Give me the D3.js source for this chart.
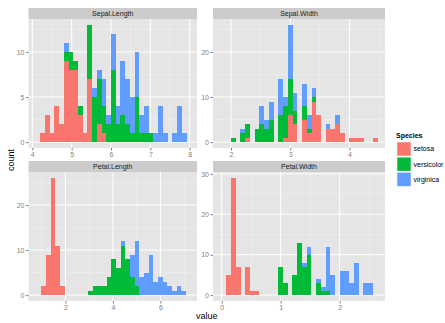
<!DOCTYPE html>
<html><head><meta charset="utf-8">
<script src="https://cdn.jsdelivr.net/npm/d3@7"></script>
<style>body{margin:0;background:#fff}svg{display:block}text{font-family:"Liberation Sans",Arial,sans-serif}</style>
</head><body>
<script>
// ---- data (stacked histogram counts per bin) ----
const species = ["setosa", "versicolor", "virginica"];
const facetNames = ["Sepal.Length", "Sepal.Width", "Petal.Length", "Petal.Width"];
const binStarts = [4.2, 2.0, 0.98333, 0.08];
const binWidths = [0.12, 0.08, 0.196667, 0.08];

const slSetosa     = [1,3,1,4,2,9,8,8,3,1,7,0,2,1,0,0,0,0,0,0,0,0,0,0,0,0,0,0,0,0,0];
const slVersicolor = [0,0,0,0,0,1,2,1,1,0,6,5,5,3,2,8,2,3,2,1,5,1,1,1,0,0,0,0,0,0,0];
const slVirginica  = [0,0,0,0,0,1,0,0,0,0,0,1,1,3,1,4,2,6,5,4,5,2,3,0,1,4,1,0,1,4,1];

const swSetosa     = [0,0,0,1,0,0,0,0,0,0,0,1,6,4,0,5,2,9,6,0,3,3,4,2,0,1,1,1,0,0,1];
const swVersicolor = [1,0,2,3,0,3,4,3,5,0,6,7,8,3,0,3,1,1,0,0,0,0,0,0,0,0,0,0,0,0,0];
const swVirginica  = [0,0,1,0,0,0,4,2,4,0,8,2,12,4,0,5,3,2,0,0,1,0,2,0,0,0,0,0,0,0,0];

const plSetosa     = [2,9,26,11,2,0,0,0,0,0,0,0,0,0,0,0,0,0,0,0,0,0,0,0,0,0,0,0,0,0,0];
const plVersicolor = [0,0,0,0,0,0,0,0,0,0,1,2,2,2,4,8,6,11,8,4,2,0,0,0,0,0,0,0,0,0,0];
const plVirginica  = [0,0,0,0,0,0,0,0,0,0,0,0,0,0,0,0,0,1,0,5,10,4,5,9,3,4,3,2,1,2,1];

const pwSetosa     = [5,29,7,0,7,1,1,0,0,0,0,0,0,0,0,0,0,0,0,0,0,0,0,0,0,0,0,0,0,0,0];
const pwVersicolor = [0,0,0,0,0,0,0,0,0,0,0,7,3,0,5,13,7,10,0,3,1,1,0,0,0,0,0,0,0,0,0];
const pwVirginica  = [0,0,0,0,0,0,0,0,0,0,0,0,0,0,0,0,1,2,0,1,1,11,5,0,6,6,3,8,0,3,3];

const xTicks = [[4,5,6,7,8],[2,3,4],[2,4,6],[0,1,2]];
const yTicks = [[0,5,10],[0,10,20],[0,10,20],[0,10,20,30]];
const xLimits = [[3.903, 8.186],[1.696, 4.601],[0.447, 7.539],[-0.147, 2.768]];

const counts = [
  [slSetosa, slVersicolor, slVirginica],
  [swSetosa, swVersicolor, swVirginica],
  [plSetosa, plVersicolor, plVirginica],
  [pwSetosa, pwVersicolor, pwVirginica]
];

// ---- layout ----
const W = 445, H = 323;
const cols = [[28.5, 197], [213, 385]];
const rows = [{strip: 8, top: 19, bottom: 148}, {strip: 161, top: 172, bottom: 301}];
const colors = d3.scaleOrdinal().domain(species).range(["#F8766D", "#00BA38", "#619CFF"]);

const svg = d3.select("body").append("svg").attr("width", W).attr("height", H);
svg.append("rect").attr("width", W).attr("height", H).attr("fill", "#fff");

facetNames.forEach((name, fi) => {
  const c = cols[fi % 2], r = rows[Math.floor(fi / 2)];
  const n = counts[fi][0].length;
  const table = d3.range(n).map(i => {
    const o = {x0: binStarts[fi] + i * binWidths[fi], x1: binStarts[fi] + (i + 1) * binWidths[fi]};
    species.forEach((s, si) => o[s] = counts[fi][si][i]);
    return o;
  });
  const stacked = d3.stack().keys(species)(table);
  const maxY = d3.max(table, d => species.reduce((a, s) => a + d[s], 0));
  const x = d3.scaleLinear().domain(xLimits[fi]).range(c);
  const y = d3.scaleLinear().domain([-0.05 * maxY, 1.05 * maxY]).range([r.bottom, r.top]);

  const g = svg.append("g");
  // strip
  g.append("rect").attr("x", c[0]).attr("y", r.strip).attr("width", c[1] - c[0]).attr("height", r.top - r.strip).attr("fill", "#CCCCCC");
  g.append("text").attr("x", (c[0] + c[1]) / 2).attr("y", (r.strip + r.top) / 2).attr("dy", "0.35em")
    .attr("text-anchor", "middle").attr("font-size", 7).attr("fill", "#1A1A1A").text(name);
  // panel
  g.append("rect").attr("x", c[0]).attr("y", r.top).attr("width", c[1] - c[0]).attr("height", r.bottom - r.top).attr("fill", "#E5E5E5");
  // minor grid
  const xt = xTicks[fi], yt = yTicks[fi];
  const xs = xt[1] - xt[0], ys = yt[1] - yt[0];
  const xMinor = d3.range(xt[0] - xs / 2, xt[xt.length - 1] + xs, xs).filter(v => v > xLimits[fi][0] && v < xLimits[fi][1]);
  const yMinor = d3.range(yt[0] - ys / 2, yt[yt.length - 1] + ys, ys).filter(v => v > y.domain()[0] && v < y.domain()[1]);
  g.selectAll(".mx").data(xMinor).join("line").attr("x1", d => x(d)).attr("x2", d => x(d)).attr("y1", r.top).attr("y2", r.bottom).attr("stroke", "#F2F2F2").attr("stroke-width", 0.5);
  g.selectAll(".my").data(yMinor).join("line").attr("x1", c[0]).attr("x2", c[1]).attr("y1", d => y(d)).attr("y2", d => y(d)).attr("stroke", "#F2F2F2").attr("stroke-width", 0.5);
  g.selectAll(".gx").data(xt).join("line").attr("x1", d => x(d)).attr("x2", d => x(d)).attr("y1", r.top).attr("y2", r.bottom).attr("stroke", "#fff").attr("stroke-width", 1);
  g.selectAll(".gy").data(yt).join("line").attr("x1", c[0]).attr("x2", c[1]).attr("y1", d => y(d)).attr("y2", d => y(d)).attr("stroke", "#fff").attr("stroke-width", 1);
  // bars
  stacked.forEach(layer => {
    g.append("g").attr("fill", colors(layer.key)).selectAll("rect").data(layer.filter(d => d[1] > d[0])).join("rect")
      .attr("x", d => x(d.data.x0)).attr("width", d => x(d.data.x1) - x(d.data.x0))
      .attr("y", d => y(d[1])).attr("height", d => y(d[0]) - y(d[1]))
      .attr("shape-rendering", "crispEdges");
  });
  // axes
  const ax = g.append("g").attr("transform", `translate(0,${r.bottom})`)
    .call(d3.axisBottom(x).tickValues(xt).tickSize(2.5).tickPadding(1.5).tickFormat(d3.format("d")));
  const ay = g.append("g").attr("transform", `translate(${c[0]},0)`)
    .call(d3.axisLeft(y).tickValues(yt).tickSize(2.5).tickPadding(1.5).tickFormat(d3.format("d")));
  [ax, ay].forEach(a => {
    a.select(".domain").remove();
    a.selectAll("line").attr("stroke", "#7F7F7F");
    a.selectAll("text").attr("font-size", 7).attr("fill", "#7F7F7F").attr("font-family", "Liberation Sans, Arial, sans-serif");
  });
});

// axis titles
svg.append("text").attr("x", (cols[0][0] + cols[1][1]) / 2).attr("y", 319).attr("text-anchor", "middle")
  .attr("font-size", 9).attr("fill", "#000").text("value");
svg.append("text").attr("transform", "translate(14,160) rotate(-90)").attr("text-anchor", "middle")
  .attr("font-size", 9).attr("fill", "#000").text("count");

// legend
const leg = svg.append("g");
leg.append("text").attr("x", 396).attr("y", 137.5).attr("font-size", 7).attr("font-weight", "bold").attr("fill", "#000").text("Species");
species.forEach((s, i) => {
  const y0 = 141.5 + i * 15.2;
  leg.append("rect").attr("x", 396.5).attr("y", y0).attr("width", 15).attr("height", 15).attr("fill", "#F2F2F2");
  leg.append("rect").attr("x", 397.3).attr("y", y0 + 0.8).attr("width", 13.4).attr("height", 13.4).attr("fill", colors(s));
  leg.append("text").attr("x", 413.5).attr("y", y0 + 7.5).attr("dy", "0.35em").attr("font-size", 7).attr("fill", "#000").text(s);
});
</script>
</body></html>
